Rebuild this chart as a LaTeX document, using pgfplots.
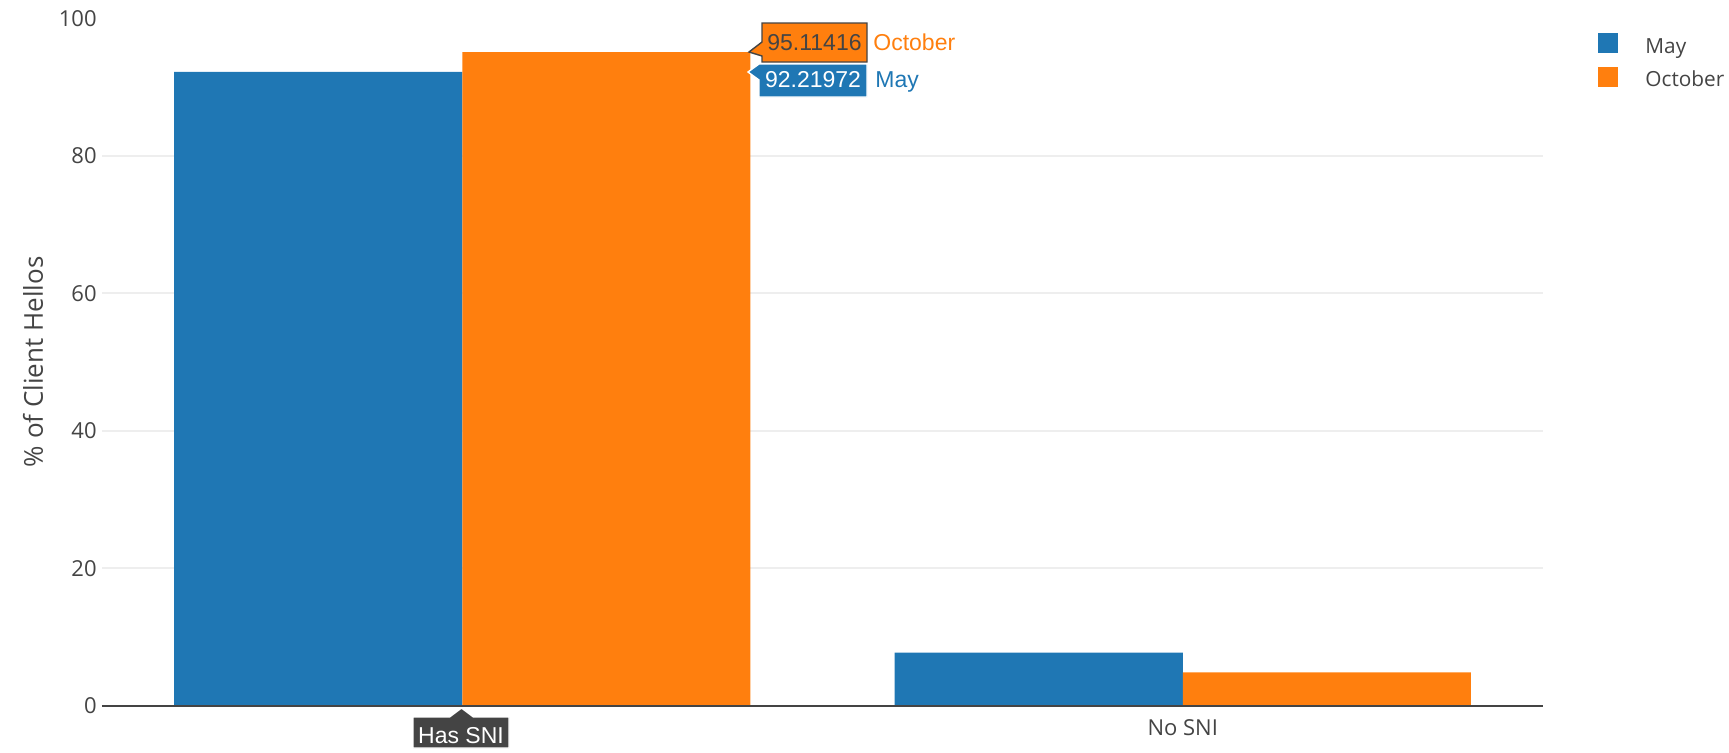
\documentclass[border=0pt]{standalone}
\usepackage{fontspec}
\setmainfont{Open Sans}
\newfontfamily\hoverfont{Liberation Sans}
\usepackage{pgfplots}
\pgfplotsset{compat=1.18}
\definecolor{pblue}{HTML}{1F77B4}
\definecolor{porange}{HTML}{FF7F0E}
\definecolor{ptext}{HTML}{444444}
\definecolor{pgrid}{HTML}{EEEEEE}
\begin{document}
\begin{tikzpicture}
\begin{axis}[
  at={(0,0)}, anchor=south west,
  scale only axis, width=720.5pt, height=344.2pt,
  xmin=-0.5, xmax=1.5, ymin=0, ymax=100.12,
  axis line style={draw=none},
  major tick length=0pt,
  xtick={0,1}, xticklabels={{}, No SNI},
  ytick={0,20,40,60,80,100},
  /pgf/number format/assume math mode=true,
  tick label style={font=\fontsize{11}{13}\selectfont, text=ptext},
  yticklabel style={inner sep=0pt, anchor=east, xshift=-2.5pt},
  xticklabel style={inner sep=0pt, anchor=center, yshift=-11pt},
  ylabel={\% of Client Hellos},
  ylabel style={at={(axis description cs:-0.0479,0.5)}, anchor=center, font=\fontsize{13}{15}\selectfont, text=ptext},
  clip=false,
]
\pgfplotsinvokeforeach{20,40,60,80}{
  \draw[pgrid, line width=1pt] (axis cs:-0.5,#1) -- (axis cs:1.5,#1);
}
\addplot[ybar, bar width=144.1pt, bar shift=-72.05pt, fill=pblue, draw=none]
  coordinates {(0,92.21972) (1,7.78028)};
\addplot[ybar, bar width=144.1pt, bar shift=72.05pt, fill=porange, draw=none]
  coordinates {(0,95.11416) (1,4.88584)};
\draw[ptext, line width=1pt] (axis cs:-0.5,0) -- (axis cs:1.5,0);
\end{axis}
% legend
\fill[pblue] (748pt,326.5pt) rectangle (758pt,336.5pt);
\fill[porange] (748pt,309.3pt) rectangle (758pt,319.3pt);
\node[anchor=base west, inner sep=0pt, text=ptext, font=\fontsize{10.4}{12}\selectfont] at (771.5pt,326.3pt) {May};
\node[anchor=base west, inner sep=0pt, text=ptext, font=\fontsize{10.4}{12}\selectfont] at (771.5pt,310pt) {October};
% hover labels
\filldraw[fill=porange, draw=ptext, line width=0.7pt]
  (323.5pt,327pt) -- (330pt,332pt) -- (330pt,341.5pt) -- (382.5pt,341.5pt) -- (382.5pt,322pt) -- (330pt,322pt) -- (330pt,325pt) -- cycle;
\node[anchor=base, inner sep=0pt, text=ptext, font=\hoverfont\fontsize{11.5}{13}\selectfont] at (356.25pt,328pt) {95.11416};
\node[anchor=base west, inner sep=0pt, text=porange, font=\hoverfont\fontsize{11.5}{13}\selectfont] at (385.5pt,328pt) {October};
\filldraw[fill=pblue, draw=white, line width=0.7pt]
  (323pt,317pt) -- (328.5pt,321pt) -- (382.5pt,321pt) -- (382.5pt,304.5pt) -- (328.5pt,304.5pt) -- (328.5pt,313pt) -- cycle;
\node[anchor=base, inner sep=0pt, text=white, font=\hoverfont\fontsize{11.5}{13}\selectfont] at (355.5pt,309.5pt) {92.21972};
\node[anchor=base west, inner sep=0pt, text=pblue, font=\hoverfont\fontsize{11.5}{13}\selectfont] at (386.5pt,309.5pt) {May};
\filldraw[fill=ptext, draw=white, line width=0.7pt]
  (179.75pt,-1pt) -- (185.75pt,-5.5pt) -- (203.5pt,-5.5pt) -- (203.5pt,-21pt) -- (155.5pt,-21pt) -- (155.5pt,-5.5pt) -- (173.75pt,-5.5pt) -- cycle;
\node[anchor=base, inner sep=0pt, text=white, font=\hoverfont\fontsize{11.5}{13}\selectfont] at (179.5pt,-18.5pt) {Has SNI};
\pgfresetboundingbox
\path (-51pt,-23pt) rectangle (813.5pt,353pt);
\end{tikzpicture}
\end{document}
